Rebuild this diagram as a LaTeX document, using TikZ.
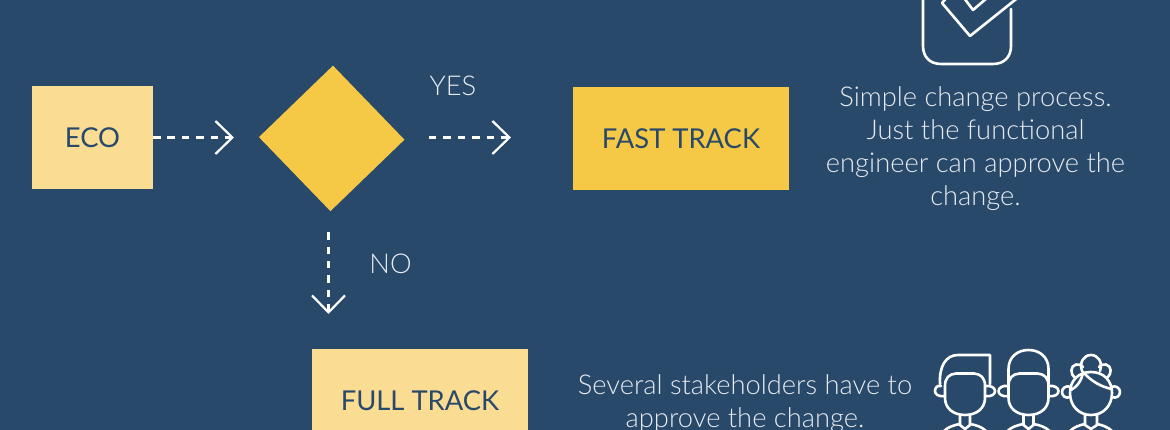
\documentclass[tikz,border=0pt]{standalone}
\usepackage{fontspec}
\setmainfont{Lato}
\newfontfamily\lightfont{Lato Light}
\usetikzlibrary{arrows.meta,shapes.geometric}
\definecolor{bgblue}{HTML}{29496B}
\definecolor{palegold}{HTML}{FADC93}
\definecolor{gold}{HTML}{F5C945}
\definecolor{lighttext}{HTML}{E6EBF0}
\tikzset{
  boxnode/.style={minimum width=#1,minimum height=103pt,inner sep=0pt,outer sep=0pt,text=bgblue,font=\fontsize{27.35}{32}\selectfont},
  flow/.style={draw=white,line width=2.7pt,dash pattern=on 7.5pt off 6.9pt,-{Straight Barb[length=17pt,width=33pt,line width=2.2pt]}},
  lbl/.style={text=lighttext,font=\lightfont\fontsize{27.3}{33.2}\selectfont,align=center,inner sep=0pt},
  icon/.style={draw=white,line width=2.6pt,line join=round,line cap=round}
}
\begin{document}
\begin{tikzpicture}[x=1pt,y=-1pt]
\useasboundingbox (0,0) rectangle (1170,430);
\clip (0,0) rectangle (1170,430);
\fill[bgblue] (0,0) rectangle (1170,430);
\node[boxnode=121pt,fill=palegold] (eco) at (92.5,137.5) {\raisebox{-1pt}{ECO}};
\node[diamond,fill=gold,rotate=-1,minimum width=145.5pt,minimum height=145.5pt,inner sep=0pt,outer sep=0pt] (dec) at (331.7,138.4) {};
\node[boxnode=216pt,fill=gold] (fast) at (681,138.5) {\raisebox{-1pt}{FAST TRACK}};
\node[boxnode=216pt,fill=palegold] (full) at (420,400.5) {\raisebox{-1pt}{FULL TRACK}};
\node[lbl] (yes) at (453,86) {YES};
\node[lbl] (no) at (390.5,263.5) {NO};
\node[lbl] (fasttxt) at (975.5,148.5) {Simple change process.\\Just the functional\\engineer can approve the\\change.};
\node[lbl] (fulltxt) at (745,403.5) {Several stakeholders have to\\approve the change.};
\coordinate (a1) at (234,137.5);
\coordinate (a2) at (511,137.5);
\coordinate (a3) at (328.5,314);
\draw[flow] (eco.east) -- (a1);
\draw[flow,shorten <=24.5pt] (dec.east |- eco.east) -- (a2);
\draw[flow,shorten <=21pt] (a3 |- dec.south) -- (a3);
% check box icon
\draw[icon] (923,-2) -- (923,46) .. controls (923,57) and (930,64) .. (941,64) -- (993,64) .. controls (1004,64) and (1011,57) .. (1011,46) -- (1011,9);
\draw[icon] (950,-6) -- (942,3) -- (970,36) -- (1020,-4);
\draw[icon] (964,-2) -- (973,10) -- (987,-2);
% man with quiff
\begin{scope}
\draw[icon] (945,386) .. controls (945,378) and (949,374) .. (956,373.5) -- (974,373.5) .. controls (981,374) and (985,378) .. (985,386) -- (985,398) .. controls (985,408) and (977,415) .. (965,415) .. controls (953,415) and (945,408) .. (945,398) -- cycle;
\draw[icon] (940,384) .. controls (939,366) and (946,355) .. (958,355) -- (990,355) -- (990,384);
\draw[icon] (941,386) .. controls (937,385) and (935,388) .. (935,391) .. controls (935,394) and (938,397) .. (945,396);
\draw[icon] (985,386) .. controls (991,385) and (995,388) .. (995,391) .. controls (995,394) and (992,397) .. (985,396);
\draw[icon] (960,415) -- (960,425) -- (965,429) -- (970,425) -- (970,415);
\draw[icon] (944,431) .. controls (948,427) and (954,425) .. (960,424);
\draw[icon] (986,431) .. controls (982,427) and (976,425) .. (970,424);
\end{scope}
% man with cap
\begin{scope}[xshift=63.5pt]
\draw[icon] (945,386) .. controls (945,378) and (949,374) .. (956,373.5) -- (974,373.5) .. controls (981,374) and (985,378) .. (985,386) -- (985,398) .. controls (985,408) and (977,415) .. (965,415) .. controls (953,415) and (945,408) .. (945,398) -- cycle;
\draw[icon] (945,384) -- (945,369) .. controls (945,357) and (954,350) .. (965,350) .. controls (976,350) and (985,357) .. (985,369) -- (985,384);
\draw[icon] (945,386) .. controls (939,385) and (935,388) .. (935,391) .. controls (935,394) and (938,397) .. (945,396);
\draw[icon] (985,386) .. controls (991,385) and (995,388) .. (995,391) .. controls (995,394) and (992,397) .. (985,396);
\draw[icon] (960,415) -- (960,425) -- (965,429) -- (970,425) -- (970,415);
\draw[icon] (944,431) .. controls (948,427) and (954,425) .. (960,424);
\draw[icon] (986,431) .. controls (982,427) and (976,425) .. (970,424);
\end{scope}
% woman
\draw[icon] (1091,372) .. controls (1078,372) and (1070,381) .. (1070,393) .. controls (1070,406) and (1079,415) .. (1091,415) .. controls (1103,415) and (1112,406) .. (1112,393) .. controls (1112,381) and (1104,372) .. (1091,372) -- cycle;
\draw[icon] (1071,390) .. controls (1077,387) and (1082,380) .. (1083,372) .. controls (1091,381) and (1101,387) .. (1112,389);
\draw[icon] (1082,371) .. controls (1079,362) and (1084,355) .. (1091,355) .. controls (1098,355) and (1103,362) .. (1100,371);
\draw[icon] (1075,378) .. controls (1070,374) and (1070,366) .. (1076,364.5) .. controls (1079,364) and (1082,365) .. (1083,367);
\draw[icon] (1107,378) .. controls (1112,374) and (1112,366) .. (1106,364.5) .. controls (1103,364) and (1100,365) .. (1099,367);
\draw[icon] (1071,387) .. controls (1066,385) and (1062,388) .. (1062,392) .. controls (1062,396) and (1066,399) .. (1070,397);
\draw[icon] (1111,387) .. controls (1116,385) and (1120,388) .. (1120,392) .. controls (1120,396) and (1116,399) .. (1112,397);
\draw[icon] (1085,415) -- (1085,425) -- (1091,429) -- (1097,425) -- (1097,415);
\draw[icon] (1070,431) .. controls (1074,427) and (1080,425) .. (1085,424);
\draw[icon] (1112,431) .. controls (1108,427) and (1102,425) .. (1097,424);
\end{tikzpicture}
\end{document}
